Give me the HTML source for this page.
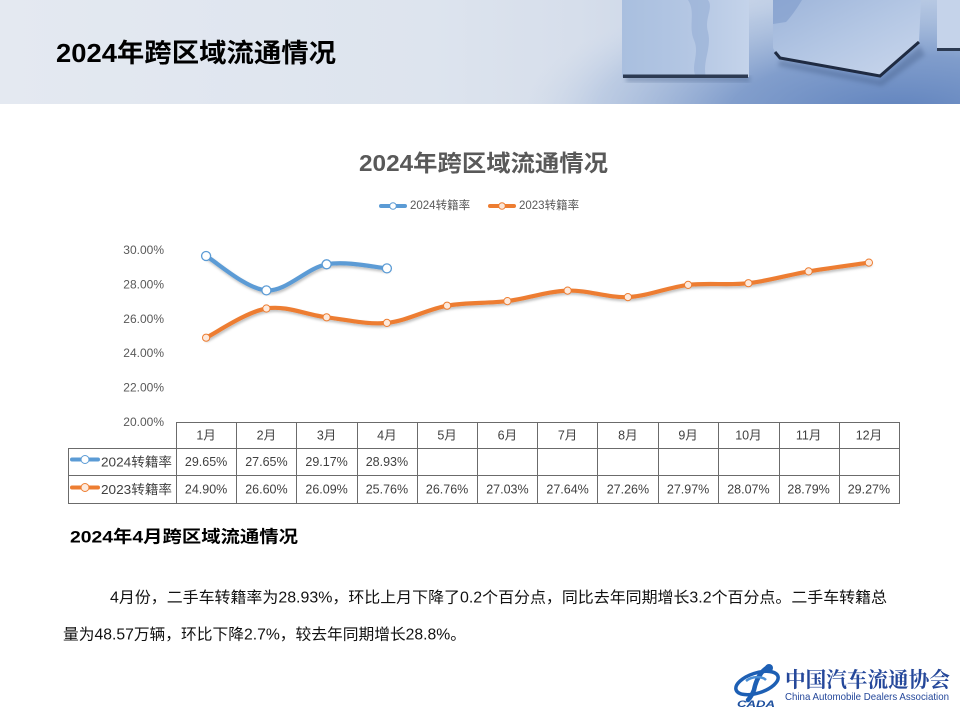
<!DOCTYPE html>
<html>
<head>
<meta charset="utf-8">
<style>
html,body{margin:0;padding:0;background:#fff;}
body{width:960px;height:720px;overflow:hidden;position:relative;}
svg{display:block;}
.cjk{font-family:"Liberation Sans","Noto Sans CJK SC",sans-serif;}
</style>
</head>
<body>
<svg width="960" height="720" viewBox="0 0 960 720" xmlns="http://www.w3.org/2000/svg" class="cjk">
<defs>
  <linearGradient id="hdr" x1="0" y1="0" x2="1" y2="0">
    <stop offset="0" stop-color="#e4e9f1"/>
    <stop offset="0.45" stop-color="#dde4ee"/>
    <stop offset="0.6" stop-color="#d6deeb"/>
    <stop offset="0.8" stop-color="#c3d1e7"/>
    <stop offset="1" stop-color="#b6c8e3"/>
  </linearGradient>
  <radialGradient id="floorR" cx="900" cy="115" r="380" gradientUnits="userSpaceOnUse" gradientTransform="translate(900 115) scale(1 0.35) translate(-900 -115)">
    <stop offset="0" stop-color="#5f82bd" stop-opacity="1"/>
    <stop offset="0.45" stop-color="#7a98c9" stop-opacity="0.9"/>
    <stop offset="0.8" stop-color="#a7bcdc" stop-opacity="0.5"/>
    <stop offset="1" stop-color="#c8d5e8" stop-opacity="0"/>
  </radialGradient>
  <linearGradient id="cube1" x1="0" y1="0" x2="1" y2="0">
    <stop offset="0" stop-color="#a9bfdf"/>
    <stop offset="0.5" stop-color="#b3c6e3"/>
    <stop offset="1" stop-color="#c4d3ea"/>
  </linearGradient>
  <linearGradient id="cube2" x1="0" y1="0" x2="1" y2="1">
    <stop offset="0" stop-color="#9eb5da"/>
    <stop offset="0.5" stop-color="#b4c7e4"/>
    <stop offset="1" stop-color="#c9d6ec"/>
  </linearGradient>
  <filter id="sh" x="-5%" y="-20%" width="110%" height="140%">
    <feDropShadow dx="1" dy="2" stdDeviation="1.2" flood-color="#000" flood-opacity="0.25"/>
  </filter>
  <filter id="blur2"><feGaussianBlur stdDeviation="2"/></filter>
</defs>

<!-- Header band -->
<rect x="0" y="0" width="960" height="104" fill="url(#hdr)"/>
<rect x="500" y="0" width="460" height="104" fill="url(#floorR)"/>
<!-- cube shadows -->
<rect x="626" y="76" width="124" height="6" fill="#3d5680" opacity="0.35" filter="url(#blur2)"/>
<polygon points="780,60 880,80 920,46 925,55 882,86 778,66" fill="#3d5680" opacity="0.35" filter="url(#blur2)"/>
<!-- cube 1 -->
<rect x="622" y="0" width="127" height="77" fill="url(#cube1)"/>
<path d="M688,0 C696,12 688,26 694,40 C700,54 690,66 696,77 L706,77 C702,62 712,48 708,32 C704,18 714,8 708,0 Z" fill="#91abd4" opacity="0.55"/>
<rect x="623" y="74.5" width="125" height="3.5" fill="#2c3a52"/>
<!-- cube 2 -->
<polygon points="773,0 921,0 919,42 880,75 778,57 773,48" fill="url(#cube2)"/>
<path d="M773,0 L802,0 C796,10 790,18 786,22 L773,24 Z" fill="#7f9bcb" opacity="0.6"/>
<polyline points="775,52 780,58 880,76 919,42" fill="none" stroke="#1f2b42" stroke-width="3"/>
<!-- cube 3 -->
<rect x="937" y="0" width="23" height="50" fill="#c5d3ea"/>
<rect x="937" y="48" width="23" height="3" fill="#2c3a52"/>

<text x="56" y="53" font-size="26" font-weight="bold" fill="#000" dominant-baseline="central" textLength="280" lengthAdjust="spacingAndGlyphs">2024年跨区域流通情况</text>

<!-- Chart title -->
<text x="359" y="163" font-size="23" font-weight="bold" fill="#595959" dominant-baseline="central" textLength="249" lengthAdjust="spacingAndGlyphs">2024年跨区域流通情况</text>

<!-- Legend -->
<line x1="381" y1="206" x2="405" y2="206" stroke="#5b9bd5" stroke-width="4" stroke-linecap="round"/>
<circle cx="393" cy="206" r="3.3" fill="#fff" stroke="#5b9bd5" stroke-width="1"/>
<text x="410" y="206" font-size="11.5" fill="#595959" dominant-baseline="central">2024转籍率</text>
<line x1="490" y1="206" x2="514" y2="206" stroke="#ed7d31" stroke-width="4" stroke-linecap="round"/>
<circle cx="502" cy="206" r="3.3" fill="#fbe5d6" stroke="#ed7d31" stroke-width="1"/>
<text x="519" y="206" font-size="11.5" fill="#595959" dominant-baseline="central">2023转籍率</text>

<!-- Y axis labels -->
<g font-size="12" fill="#595959" text-anchor="end" dominant-baseline="central">
  <text x="164" y="250">30.00%</text>
  <text x="164" y="284.4">28.00%</text>
  <text x="164" y="318.8">26.00%</text>
  <text x="164" y="353.2">24.00%</text>
  <text x="164" y="387.6">22.00%</text>
  <text x="164" y="422">20.00%</text>
</g>

<!-- Orange series -->
<path filter="url(#sh)" d="M206.1,337.7 C216.1,332.8 246.3,311.9 266.4,308.5 C286.5,305.1 306.5,314.9 326.6,317.3 C346.7,319.7 366.8,324.8 386.9,322.9 C407,321 427,309.3 447.1,305.7 C467.2,302.1 487.3,303.6 507.4,301.1 C527.5,298.6 547.5,291.3 567.6,290.6 C587.7,289.9 607.8,298.0 627.9,297.1 C648,296.2 668,287.2 688.1,284.9 C708.2,282.6 728.3,285.5 748.4,283.2 C768.5,280.9 788.5,274.8 808.6,271.4 C828.7,268 858.9,264.1 868.9,262.6" fill="none" stroke="#ed7d31" stroke-width="4.2" stroke-linecap="round"/>
<g fill="#fde9dc" stroke="#ed7d31" stroke-width="1">
  <circle cx="206.1" cy="337.7" r="3.6"/>
  <circle cx="266.4" cy="308.5" r="3.6"/>
  <circle cx="326.6" cy="317.3" r="3.6"/>
  <circle cx="386.9" cy="322.9" r="3.6"/>
  <circle cx="447.1" cy="305.7" r="3.6"/>
  <circle cx="507.4" cy="301.1" r="3.6"/>
  <circle cx="567.6" cy="290.6" r="3.6"/>
  <circle cx="627.9" cy="297.1" r="3.6"/>
  <circle cx="688.1" cy="284.9" r="3.6"/>
  <circle cx="748.4" cy="283.2" r="3.6"/>
  <circle cx="808.6" cy="271.4" r="3.6"/>
  <circle cx="868.9" cy="262.6" r="3.6"/>
</g>

<!-- Blue series -->
<path filter="url(#sh)" d="M206.1,256.0 C216.1,261.7 246.3,289.0 266.4,290.4 C286.5,291.8 306.5,268.0 326.6,264.3 C346.7,260.6 376.9,267.7 386.9,268.4" fill="none" stroke="#5b9bd5" stroke-width="4.2" stroke-linecap="round"/>
<g fill="#fff" stroke="#5b9bd5" stroke-width="1.3">
  <circle cx="206.1" cy="256.0" r="4.5"/>
  <circle cx="266.4" cy="290.4" r="4.5"/>
  <circle cx="326.6" cy="264.3" r="4.5"/>
  <circle cx="386.9" cy="268.4" r="4.5"/>
</g>

<!-- Data table -->
<g stroke="#6b6b6b" stroke-width="1" fill="none" shape-rendering="crispEdges">
  <line x1="176" y1="422.5" x2="899.5" y2="422.5"/>
  <line x1="68" y1="448.5" x2="899.5" y2="448.5"/>
  <line x1="68" y1="475.5" x2="899.5" y2="475.5"/>
  <line x1="68" y1="503.5" x2="899.5" y2="503.5"/>
  <line x1="68.5" y1="448" x2="68.5" y2="504"/>
  <line x1="176.5" y1="422" x2="176.5" y2="504"/>
  <line x1="236.5" y1="422" x2="236.5" y2="504"/>
  <line x1="296.5" y1="422" x2="296.5" y2="504"/>
  <line x1="357.5" y1="422" x2="357.5" y2="504"/>
  <line x1="417.5" y1="422" x2="417.5" y2="504"/>
  <line x1="477.5" y1="422" x2="477.5" y2="504"/>
  <line x1="537.5" y1="422" x2="537.5" y2="504"/>
  <line x1="597.5" y1="422" x2="597.5" y2="504"/>
  <line x1="658.5" y1="422" x2="658.5" y2="504"/>
  <line x1="718.5" y1="422" x2="718.5" y2="504"/>
  <line x1="779.5" y1="422" x2="779.5" y2="504"/>
  <line x1="839.5" y1="422" x2="839.5" y2="504"/>
  <line x1="899.5" y1="422" x2="899.5" y2="504"/>
</g>
<g font-size="12.5" fill="#404040" text-anchor="middle" dominant-baseline="central">
  <text x="206.1" y="435.5">1月</text>
  <text x="266.4" y="435.5">2月</text>
  <text x="326.6" y="435.5">3月</text>
  <text x="386.9" y="435.5">4月</text>
  <text x="447.1" y="435.5">5月</text>
  <text x="507.4" y="435.5">6月</text>
  <text x="567.6" y="435.5">7月</text>
  <text x="627.9" y="435.5">8月</text>
  <text x="688.1" y="435.5">9月</text>
  <text x="748.4" y="435.5">10月</text>
  <text x="808.6" y="435.5">11月</text>
  <text x="868.9" y="435.5">12月</text>

  <text x="206.1" y="462">29.65%</text>
  <text x="266.4" y="462">27.65%</text>
  <text x="326.6" y="462">29.17%</text>
  <text x="386.9" y="462">28.93%</text>

  <text x="206.1" y="489.5">24.90%</text>
  <text x="266.4" y="489.5">26.60%</text>
  <text x="326.6" y="489.5">26.09%</text>
  <text x="386.9" y="489.5">25.76%</text>
  <text x="447.1" y="489.5">26.76%</text>
  <text x="507.4" y="489.5">27.03%</text>
  <text x="567.6" y="489.5">27.64%</text>
  <text x="627.9" y="489.5">27.26%</text>
  <text x="688.1" y="489.5">27.97%</text>
  <text x="748.4" y="489.5">28.07%</text>
  <text x="808.6" y="489.5">28.79%</text>
  <text x="868.9" y="489.5">29.27%</text>
</g>
<!-- row headers -->
<line x1="72" y1="459.5" x2="98" y2="459.5" stroke="#5b9bd5" stroke-width="4" stroke-linecap="round"/>
<circle cx="85" cy="459.5" r="4" fill="#fff" stroke="#5b9bd5" stroke-width="1"/>
<text x="101" y="462" font-size="13" fill="#404040" dominant-baseline="central" textLength="71" lengthAdjust="spacingAndGlyphs">2024转籍率</text>
<line x1="72" y1="487.5" x2="98" y2="487.5" stroke="#ed7d31" stroke-width="4" stroke-linecap="round"/>
<circle cx="85" cy="487.5" r="4" fill="#fde9dc" stroke="#ed7d31" stroke-width="1"/>
<text x="101" y="489.5" font-size="13" fill="#404040" dominant-baseline="central" textLength="71" lengthAdjust="spacingAndGlyphs">2023转籍率</text>

<!-- Subtitle & paragraph -->
<text x="70" y="537" font-size="17" font-weight="bold" fill="#000" dominant-baseline="central" textLength="228" lengthAdjust="spacingAndGlyphs">2024年4月跨区域流通情况</text>
<text x="110" y="598" font-size="15.5" fill="#111" dominant-baseline="central" textLength="777" lengthAdjust="spacingAndGlyphs">4月份，二手车转籍率为28.93%，环比上月下降了0.2个百分点，同比去年同期增长3.2个百分点。二手车转籍总</text>
<text x="63" y="635" font-size="15.5" fill="#111" dominant-baseline="central" textLength="403" lengthAdjust="spacingAndGlyphs">量为48.57万辆，环比下降2.7%，较去年同期增长28.8%。</text>

<!-- Logo -->
<g>
  <ellipse cx="757" cy="683" rx="22" ry="10" transform="rotate(-18 757 683)" fill="none" stroke="#1d5fb4" stroke-width="3.5"/>
  <path d="M768,667 C760,672 756,680 754,690 C752,695 750,698 748,700" fill="none" stroke="#1d5fb4" stroke-width="4.5" stroke-linecap="round"/>
  <circle cx="769" cy="668" r="4" fill="#1d5fb4"/>
  <path d="M746,681 C752,676 762,676 766,680" fill="none" stroke="#4a8fd6" stroke-width="2.5"/>
  <text x="737" y="704" font-size="9" font-weight="bold" font-style="italic" fill="#1d4f9e" dominant-baseline="central" textLength="38" lengthAdjust="spacingAndGlyphs">CADA</text>
</g>
<text x="785" y="680" font-size="21" font-weight="bold" fill="#24479a" dominant-baseline="central" textLength="165" lengthAdjust="spacingAndGlyphs" font-family="'Liberation Serif','Noto Serif CJK SC',serif">中国汽车流通协会</text>
<text x="785" y="697" font-size="10.5" fill="#24479a" dominant-baseline="central" textLength="164" lengthAdjust="spacingAndGlyphs">China Automobile Dealers Association</text>
</svg>
</body>
</html>
